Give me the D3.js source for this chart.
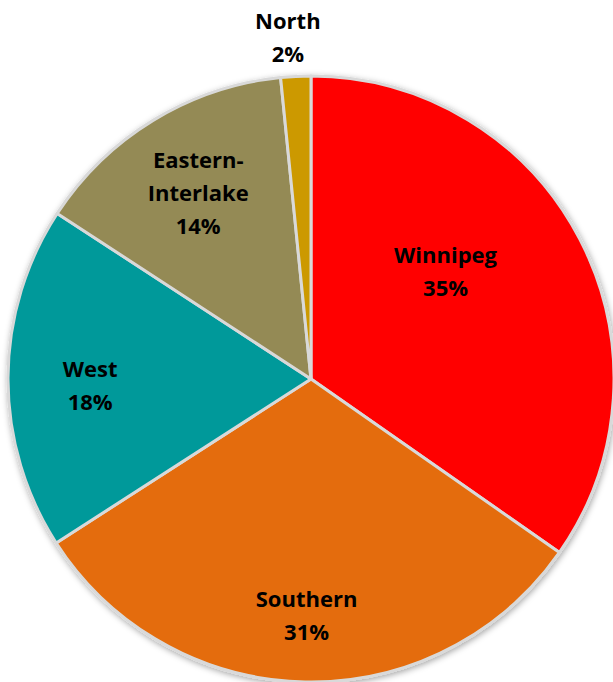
<!DOCTYPE html>
<html>
<head>
<meta charset="utf-8">
<script src="https://cdn.jsdelivr.net/npm/d3@7"></script>
<style>
  body { margin: 0; background: #fff; }
</style>
</head>
<body>
<div id="pie_chart"></div>
<script>
// regions and their share (%), clockwise from 12 o'clock
const regions = ["Winnipeg", "Southern", "West", "Eastern-Interlake", "North"];
const shares = [34.7, 31.2, 18.3, 14.2, 1.6];
const labels = ["35%", "31%", "18%", "14%", "2%"];
const colors = ["#ff0000", "#e46c0a", "#00999a", "#948a54", "#cc9900"];

const width = 613,
  height = 682,
  cx = 311,
  cy = 379,
  radius = 303;

// label placement tweaks (Excel "best fit" puts them a bit off the centroid)
const labelLayout = {
  "Winnipeg": { r: 172, turn: -11 },
  "Southern": { r: 237, turn: 0 },
  "West": { r: 221, turn: -2 },
  "Eastern-Interlake": { r: 217, turn: 0 },
  "North": { r: 342, turn: -1 }
};

const data = regions.map((name, i) => ({ name, value: shares[i], label: labels[i], color: colors[i] }));

const arcs = d3.pie().sort(null).value(d => d.value)(data);
const arc = d3.arc().innerRadius(0).outerRadius(radius);

const svg = d3.select("#pie_chart")
  .append("svg")
  .attr("width", width)
  .attr("height", height)
  .attr("viewBox", [0, 0, width, height]);

const defs = svg.append("defs");
defs.append("filter")
  .attr("id", "shadow")
  .attr("x", "-10%").attr("y", "-10%")
  .attr("width", "120%").attr("height", "120%")
  .append("feDropShadow")
  .attr("dx", 1).attr("dy", 2)
  .attr("stdDeviation", 3)
  .attr("flood-color", "#000")
  .attr("flood-opacity", 0.35);

const g = svg.append("g").attr("transform", `translate(${cx},${cy})`);

g.append("g")
  .attr("filter", "url(#shadow)")
  .attr("stroke", "#d9d9d9")
  .attr("stroke-width", 3)
  .attr("stroke-linejoin", "round")
  .selectAll("path")
  .data(arcs)
  .join("path")
  .attr("fill", d => d.data.color)
  .attr("d", arc);

function labelPos(d) {
  const lay = labelLayout[d.data.name];
  const a = (d.startAngle + d.endAngle) / 2 + lay.turn * Math.PI / 180;
  return [lay.r * Math.sin(a), -lay.r * Math.cos(a)];
}

g.append("g")
  .attr("font-family", "'Open Sans', Lato, sans-serif")
  .attr("font-weight", "bold")
  .attr("font-size", 22)
  .attr("fill", "#000")
  .attr("text-anchor", "middle")
  .selectAll("text")
  .data(arcs)
  .join("text")
  .attr("transform", d => `translate(${labelPos(d)})`)
  .each(function (d) {
    let lines = [d.data.name, d.data.label];
    if (d.data.name === "Eastern-Interlake") lines = ["Eastern-", "Interlake", d.data.label];
    const lh = 33;
    const top = -(lines.length - 1) * lh / 2;
    d3.select(this).selectAll("tspan")
      .data(lines)
      .join("tspan")
      .attr("x", 0)
      .attr("y", (t, i) => top + i * lh)
      .attr("dy", "0.35em")
      .text(t => t);
  });
</script>
</body>
</html>
